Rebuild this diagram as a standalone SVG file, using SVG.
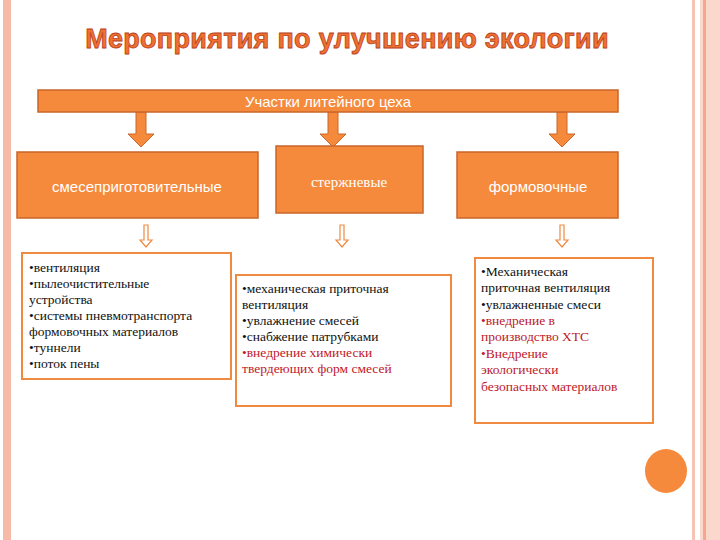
<svg xmlns="http://www.w3.org/2000/svg" width="720" height="540" viewBox="0 0 720 540">
<style>
.hdr{fill:#f58a3c;stroke:#c9662a;stroke-width:1.5}
.ht{font-family:"Liberation Sans",Arial,sans-serif;fill:#fff;text-anchor:middle}
.bx{fill:#fff;stroke:#f08a40;stroke-width:2}
.tx{font-family:'Liberation Serif','DejaVu Serif',serif;font-size:13.5px;fill:#111}
.red{fill:#c0182a}
.arr{fill:#f58a3c;stroke:#c9662a;stroke-width:1}
.oarr{fill:#fff;stroke:#f08a40;stroke-width:1.2}
</style>
<rect width="720" height="540" fill="#fff"/>
<rect x="3" y="0" width="8" height="540" fill="#f7b9a8"/>
<rect x="692" y="0" width="3" height="540" fill="#f7c4b4"/>
<rect x="700" y="0" width="20" height="540" fill="#fbd8cc"/>
<rect x="703" y="0" width="3" height="540" fill="#f5a890"/>
<text x="347" y="48" text-anchor="middle" font-family="Liberation Sans,Arial,sans-serif" font-weight="bold" font-size="27" letter-spacing="0.3" fill="#f07030" stroke="#b84020" stroke-width="0.8">Мероприятия по улучшению экологии</text>
<g id="connectors">
<path class="arr" d="M136,112h10v22h8l-13,13l-13,-13h8z"/>
<path class="arr" d="M328,112h10v22h8l-13,13l-13,-13h8z"/>
<path class="arr" d="M557,112h10v22h8l-13,13l-13,-13h8z"/>
<path class="oarr" d="M144,225h4v15h4l-6,7l-6,-7h4z"/>
<path class="oarr" d="M340,225h4v15h4l-6,7l-6,-7h4z"/>
<path class="oarr" d="M560,225h4v15h4l-6,7l-6,-7h4z"/>
</g>
<g id="top"><rect class="hdr" x="38" y="90" width="580" height="22"/><text class="ht" x="328" y="107" font-size="15">Участки литейного цеха</text></g>
<g id="n1"><rect class="hdr" x="17" y="152" width="241" height="66"/><text class="ht" x="137" y="192" font-size="15">смесеприготовительные</text></g>
<g id="n2"><rect class="hdr" x="276" y="146" width="147" height="67"/><text x="349" y="187" font-size="15" style="font-family:'Liberation Serif','DejaVu Serif',serif" fill="#fff" text-anchor="middle">стержневые</text></g>
<g id="n3"><rect class="hdr" x="457" y="152" width="161" height="66"/><text class="ht" x="538" y="192" font-size="15">формовочные</text></g>
<g id="b1"><rect class="bx" x="22" y="253" width="209" height="126"/>
<text class="tx"><tspan x="29" y="272">•вентиляция</tspan><tspan x="29" y="288">•пылеочистительные</tspan><tspan x="29" y="304">устройства</tspan><tspan x="29" y="320">•системы пневмотранспорта</tspan><tspan x="29" y="336">формовочных материалов</tspan><tspan x="29" y="352">•туннели</tspan><tspan x="29" y="368">•поток пены</tspan></text></g>
<g id="b2"><rect class="bx" x="236" y="275" width="215" height="131"/>
<text class="tx"><tspan x="242" y="293">•механическая приточная</tspan><tspan x="242" y="309">вентиляция</tspan><tspan x="242" y="325">•увлажнение смесей</tspan><tspan x="242" y="341">•снабжение патрубками</tspan><tspan x="242" y="357" class="red">•внедрение химически</tspan><tspan x="242" y="373" class="red">твердеющих форм смесей</tspan></text></g>
<g id="b3"><rect class="bx" x="475" y="258" width="178" height="165"/>
<text class="tx"><tspan x="481" y="276">•Механическая</tspan><tspan x="481" y="292">приточная вентиляция</tspan><tspan x="481" y="309">•увлажненные смеси</tspan><tspan x="481" y="325" class="red">•внедрение в</tspan><tspan x="481" y="341" class="red">производство ХТС</tspan><tspan x="481" y="358" class="red">•Внедрение</tspan><tspan x="481" y="374" class="red">экологически</tspan><tspan x="481" y="391" class="red">безопасных материалов</tspan></text></g>
<ellipse cx="666" cy="471" rx="21" ry="22" fill="#f58a3c"/>
</svg>
